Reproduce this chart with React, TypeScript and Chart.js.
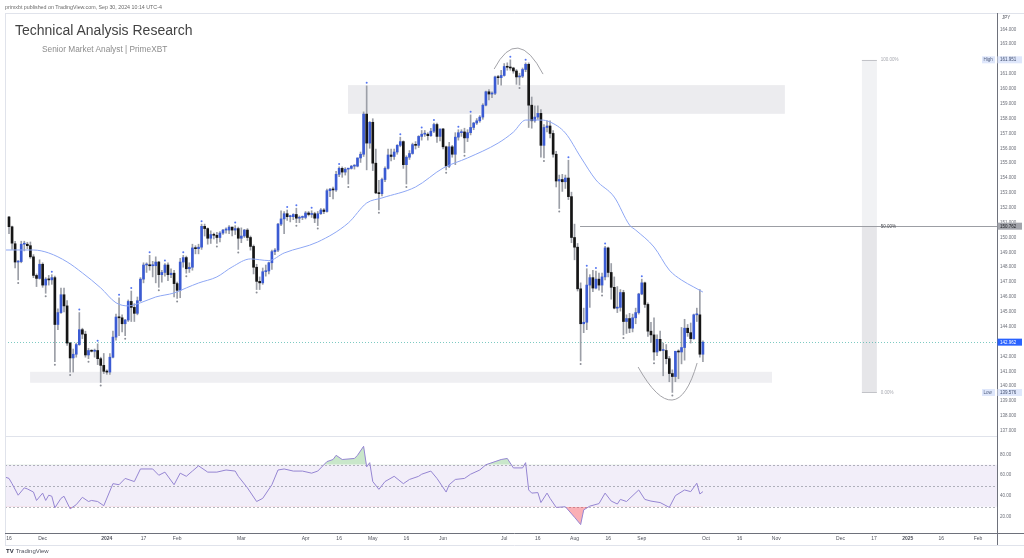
import React, { useEffect, useRef } from 'react';
import { Chart, registerables } from 'chart.js';

Chart.register(...registerables);

const FONT = '"Liberation Sans", Arial, Helvetica, sans-serif';

// ---- Daily USDJPY candles, one per weekday from 16 Nov 2023 (index 0) to 30 Sep 2024 (index 227)
const opens = [
  151.38,150.72,149.58,148.35,148.38,149.55,149.55,149.45,148.70,147.45,
  147.25,148.20,146.80,147.20,147.15,147.30,144.15,144.95,146.15,145.40,
  142.90,141.90,142.15,142.80,143.80,143.50,142.10,142.40,142.35,142.40,
  141.85,141.40,141.00,140.95,141.95,143.30,144.65,144.60,144.20,144.45,
  145.70,145.30,144.90,145.75,147.20,148.15,148.15,148.10,148.10,148.35,
  147.50,147.65,148.15,147.50,147.60,146.90,146.45,148.35,148.65,147.90,
  148.00,149.30,149.25,149.35,150.75,150.60,149.95,150.20,150.15,150.00,
  150.30,150.50,150.50,150.70,150.50,150.60,149.95,150.10,150.50,150.00,
  149.40,148.00,147.05,146.95,147.70,147.75,148.30,149.05,149.15,150.90,
  151.25,151.60,151.40,151.40,151.55,151.30,151.35,151.35,151.65,151.55,
  151.60,151.30,151.60,151.85,151.75,153.15,153.25,153.20,154.25,154.65,
  154.40,154.60,154.65,154.80,154.80,155.35,155.60,158.30,156.35,157.75,
  155.00,153.00,152.95,153.90,154.65,155.55,155.45,155.75,156.20,156.45,
  154.90,155.40,155.65,156.25,156.20,156.80,156.95,156.95,156.85,157.15,
  157.60,156.80,157.30,156.10,154.80,156.10,155.60,156.75,157.05,157.10,
  156.70,157.05,157.40,157.70,157.85,158.10,158.90,159.80,159.65,159.70,
  160.80,160.75,160.90,161.50,161.45,161.40,161.20,160.80,160.85,161.30,
  161.65,158.90,157.85,158.10,158.35,156.20,157.40,157.50,157.00,155.60,
  153.80,153.90,153.75,154.00,152.75,150.00,149.35,146.55,144.20,144.30,
  146.80,147.30,146.60,147.20,146.80,147.35,149.30,147.65,146.65,145.25,
  145.30,146.30,144.35,144.55,143.90,144.60,144.95,146.20,146.95,145.50,
  143.70,143.45,142.30,143.15,142.40,142.40,141.85,140.85,140.65,142.35,
  142.30,142.60,143.90,143.60,143.20,144.80,144.80,142.15,
];
const highs = [
  151.43,150.77,149.75,148.45,149.75,149.75,149.68,149.70,148.85,147.55,
  148.50,148.30,147.30,147.45,147.50,147.40,145.20,146.60,146.60,145.75,
  142.95,142.50,142.90,144.95,143.90,143.70,142.55,142.45,142.50,142.85,
  141.95,142.20,141.10,142.20,143.70,144.85,145.95,144.80,144.50,145.80,
  146.40,145.55,146.00,147.30,148.30,148.30,148.80,148.40,148.70,148.40,
  147.80,148.25,148.30,147.90,147.80,147.00,148.60,148.80,148.75,148.30,
  149.55,149.45,149.55,150.90,150.90,150.65,150.45,150.30,150.35,150.40,
  150.55,150.65,150.80,150.70,150.80,150.70,150.65,150.55,150.60,150.10,
  149.50,148.20,147.35,147.95,148.15,148.35,149.15,149.25,150.95,151.80,
  151.75,151.85,151.50,151.60,151.97,151.45,151.45,151.75,151.75,151.80,
  151.70,151.75,151.95,151.95,153.25,153.30,153.40,154.45,154.75,154.75,
  154.70,154.65,154.85,154.90,155.35,155.75,158.45,160.20,157.80,157.99,
  155.95,153.85,154.00,154.75,155.95,155.95,155.95,156.25,156.75,156.50,
  155.50,155.85,156.35,156.45,156.85,157.20,157.20,157.05,157.35,157.70,
  157.70,157.30,157.35,156.15,156.40,156.20,157.05,157.25,157.25,157.35,
  157.25,158.25,157.75,158.00,158.20,159.00,159.85,159.95,159.80,160.85,
  160.90,161.25,161.70,161.75,161.95,161.45,161.30,161.05,161.40,161.75,
  161.75,159.45,158.85,158.85,158.60,157.60,157.85,157.85,157.20,155.80,
  154.20,154.25,154.20,155.20,153.05,150.90,149.60,146.95,145.25,147.90,
  147.50,147.80,147.75,147.60,147.60,149.40,149.35,148.25,147.35,146.70,
  146.50,146.45,144.80,144.90,144.85,145.25,146.25,147.20,147.00,145.60,
  144.30,144.60,143.45,143.70,142.90,142.80,142.00,141.10,142.35,142.45,
  143.95,144.50,144.15,144.25,144.85,145.25,146.50,143.05,
];
const lows = [
  150.25,149.20,147.95,147.15,148.30,149.10,149.25,148.60,147.30,146.70,
  147.20,146.65,146.25,146.80,146.85,141.65,143.80,144.90,145.00,142.75,
  140.95,140.95,141.95,142.75,143.20,141.95,141.85,142.30,141.95,141.45,
  140.25,140.85,140.80,140.80,141.90,143.10,143.40,143.65,143.40,144.35,
  144.35,144.35,144.80,145.70,146.95,147.65,147.80,147.35,146.95,146.65,
  147.00,147.40,147.10,147.30,146.00,145.90,145.95,148.00,147.60,147.65,
  147.80,148.90,148.90,149.20,150.10,149.55,149.60,149.90,149.60,149.70,
  150.20,150.30,150.25,150.10,150.20,149.20,149.65,150.00,149.80,149.15,
  147.55,146.50,146.50,146.85,147.40,147.55,147.85,148.85,149.05,150.80,
  150.25,151.15,151.05,151.20,151.00,151.00,151.20,151.25,151.45,151.35,
  151.00,150.80,151.55,151.60,151.70,152.75,152.60,153.10,154.10,154.05,
  154.20,153.60,154.60,154.60,154.75,155.05,155.45,154.55,156.00,154.50,
  152.95,151.86,152.80,153.75,154.60,155.15,155.25,155.60,156.10,154.65,
  153.60,155.25,155.60,155.95,156.05,156.55,156.80,156.55,156.80,157.05,
  156.40,156.50,155.95,154.55,154.70,155.40,154.90,156.55,156.80,155.70,
  156.45,156.90,157.25,157.60,157.75,157.95,158.85,159.25,159.40,159.60,
  160.30,160.25,160.85,161.25,161.25,161.05,160.30,160.25,160.75,161.15,
  157.40,157.35,157.75,157.95,155.40,155.35,157.10,156.70,155.40,153.40,
  151.95,153.10,153.30,152.55,149.65,148.50,146.40,141.70,143.60,143.80,
  145.30,146.35,146.55,146.45,146.30,147.15,147.35,145.85,145.20,144.95,
  145.05,143.45,143.55,143.60,143.65,144.20,144.85,146.15,145.30,143.35,
  142.95,141.75,142.05,142.35,140.70,141.50,140.30,139.58,140.30,140.50,
  141.50,141.75,143.35,142.90,143.15,144.35,141.95,141.65,
];
const closes = [
  150.73,149.62,148.35,148.38,149.55,149.55,149.45,148.70,147.45,147.25,
  148.20,146.80,147.20,147.15,147.30,144.15,144.95,146.15,145.40,142.90,
  141.90,142.15,142.80,143.80,143.50,142.10,142.40,142.35,142.40,141.85,
  141.40,141.00,140.95,141.95,143.30,144.65,144.60,144.20,144.45,145.70,
  145.30,144.90,145.75,147.20,148.15,148.15,148.10,148.10,148.35,147.50,
  147.65,148.15,147.50,147.60,146.90,146.45,148.35,148.65,147.90,148.00,
  149.30,149.25,149.35,150.75,150.60,149.95,150.20,150.15,150.00,150.30,
  150.50,150.50,150.70,150.50,150.60,149.95,150.10,150.50,150.00,149.40,
  148.00,147.05,146.95,147.70,147.75,148.30,149.05,149.15,150.90,151.25,
  151.60,151.40,151.40,151.55,151.30,151.35,151.35,151.65,151.55,151.60,
  151.30,151.60,151.85,151.75,153.15,153.25,153.20,154.25,154.65,154.40,
  154.60,154.65,154.80,154.80,155.35,155.60,158.30,156.35,157.75,155.00,
  153.00,152.95,153.90,154.65,155.55,155.45,155.75,156.20,156.45,154.90,
  155.40,155.65,156.25,156.20,156.80,156.95,156.95,156.85,157.15,157.60,
  156.80,157.30,156.10,154.80,156.10,155.60,156.75,157.05,157.10,156.70,
  157.05,157.40,157.70,157.85,158.10,158.90,159.80,159.65,159.70,160.80,
  160.75,160.90,161.50,161.45,161.40,161.20,160.80,160.85,161.30,161.65,
  158.90,157.85,158.10,158.35,156.20,157.40,157.50,157.00,155.60,153.80,
  153.90,153.75,154.00,152.75,150.00,149.35,146.55,144.20,144.30,146.80,
  147.30,146.60,147.20,146.80,147.35,149.30,147.65,146.65,145.25,145.30,
  146.30,144.35,144.55,143.90,144.60,144.95,146.20,146.95,145.50,143.70,
  143.45,142.30,143.15,142.40,142.40,141.85,140.85,140.65,142.35,142.30,
  142.60,143.90,143.60,143.20,144.80,144.80,142.15,142.96,
];

const maIdx = [-1, 8, 13, 19, 24, 30, 35, 39, 43, 48, 54, 58, 62, 68, 73, 79, 85, 90, 101, 111, 117, 122, 133, 142, 150, 160, 165, 169, 174, 177, 182, 187, 192, 198, 203, 205, 211, 216, 220, 224, 227];
const maVal = [149.16, 149.16, 148.96, 148.36, 147.62, 146.61, 145.61, 145.40, 145.61, 146.00, 146.27, 146.61, 146.94, 147.35, 148.02, 148.56, 148.45, 148.96, 149.70, 150.98, 152.32, 152.66, 153.40, 154.67, 155.35, 156.35, 157.09, 157.90, 157.90, 157.77, 157.03, 155.41, 153.87, 152.72, 150.84, 150.50, 149.36, 147.81, 147.14, 146.67, 146.33];

// ---- RSI (14)
const rsiIdx = [-1, 0, 1, 3, 5, 6, 8, 9, 11, 12, 13, 14, 15, 17, 18, 20, 22, 24, 26, 27, 29, 31, 34, 36, 38, 41, 43, 47, 49, 51, 54, 56, 58, 60, 62, 65, 68, 71, 74, 75, 78, 81, 83, 86, 88, 90, 93, 96, 99, 101, 104, 106, 107, 109, 113, 114, 116, 117, 118, 119, 121, 123, 126, 129, 131, 134, 135, 138, 140, 143, 144, 146, 149, 151, 154, 156, 159, 161, 163, 165, 168, 169, 170, 171, 173, 174, 176, 177, 179, 182, 185, 187, 188, 190, 193, 195, 197, 199, 200, 202, 206, 208, 210, 213, 216, 218, 221, 223, 225, 226, 227];
const rsiVal = [58, 57, 52, 41, 48, 47, 44, 36, 43, 36, 41, 40, 29, 38, 40, 28, 32, 39, 35, 36, 35, 31, 52, 51, 57, 54, 66, 66, 60, 63, 51, 62, 59, 64, 69, 63, 63, 65, 64, 59, 48, 35, 38, 51, 65, 66, 64, 64, 62, 64, 73, 75, 79, 75, 76, 79, 87.6, 68, 72, 54, 46.6, 54, 59, 52, 56, 59, 61, 64, 57, 44, 51, 56, 57, 61, 65, 70, 73, 75, 76, 67, 67, 72, 46, 43, 43.5, 34, 43, 38, 29.4, 30, 20, 13, 27, 30.6, 33, 43, 35.4, 32.6, 37, 35, 46, 37, 35.4, 34, 29.4, 40.6, 46, 44.4, 52.4, 42.2, 44.4];

// ---- pivot markers (bars whose high / low is tagged)
const pivotHighIdx = [14, 23, 29, 36, 40, 46, 51, 57, 63, 74, 91, 94, 99, 108, 117, 128, 135, 139, 147, 151, 164, 169, 183, 189, 192, 195, 207];
const pivotLowIdx = [3, 12, 15, 20, 26, 30, 38, 49, 55, 58, 68, 75, 81, 94, 101, 111, 121, 130, 143, 149, 167, 175, 180, 187, 194, 201, 211, 217];

// ---- time axis
const xTickIdx = [0, 11, 32, 44, 55, 76, 97, 108, 119, 130, 142, 162, 173, 185, 196, 207, 228, 239, 251, 272, 283, 294, 305, 317];
const xTickLabels = ['16', 'Dec', '2024', '17', 'Feb', 'Mar', 'Apr', '16', 'May', '16', 'Jun', 'Jul', '16', 'Aug', '16', 'Sep', 'Oct', '16', 'Nov', 'Dec', '17', '2025', '16', 'Feb'];
const priceTicks = [137, 138, 139, 140, 141, 142, 143, 144, 145, 146, 147, 148, 149, 150, 151, 152, 153, 154, 155, 156, 157, 158, 159, 160, 161, 162, 163, 164];
const rsiTicks = [20, 40, 60, 80];

// ---- drawings
const zoneFromIdx = [110.9, 6.9];
const zoneToIdx = [253.8, 249.6];
const zoneHigh = [160.25, 140.97];
const zoneLow = [158.32, 140.23];
const fibHigh = 161.951;
const fibMid = 150.762;
const fibLow = 139.576;
const fibFromIdx = 279.0;
const fibToIdx = 283.9;
const fibLabelIdx = 285.2;
const fibLabels = ['100.00%', '50.00%', '0.00%'];
const midLineFromIdx = 186.8;
const lastPrice = 142.962;
const topArcIdx = [158.7, 166.5, 174.7];
const topArcPrice = [161.33, 162.74, 160.99];
const bottomArcIdx = [205.8, 216.9, 225.1];
const bottomArcPrice = [141.29, 139.07, 141.56];

const X_MIN = -1.31;
const X_MAX = 323.2;

const UP = '#3b5bd3';
const DOWN = '#151515';

const overlayPlugin = {
  id: 'tvOverlay',
  beforeDatasetsDraw(chart: any) {
    const { ctx, chartArea: ca, scales } = chart;
    const px = (v: number) => scales.x.getPixelForValue(v);
    const py = (v: number) => scales.y.getPixelForValue(v);
    const pr = (v: number) => scales.yr.getPixelForValue(v);
    ctx.save();
    // zones
    const zoneColors = ['#ececef', '#efeff2'];
    for (let i = 0; i < zoneFromIdx.length; i++) {
      const x0 = px(zoneFromIdx[i]);
      const x1 = px(zoneToIdx[i]);
      const y0 = py(zoneHigh[i]);
      const y1 = py(zoneLow[i]);
      ctx.fillStyle = zoneColors[i];
      ctx.fillRect(x0, y0, x1 - x0, y1 - y0);
    }
    // fib range bar
    const fx0 = px(fibFromIdx);
    const fx1 = px(fibToIdx);
    const yHi = py(fibHigh);
    const yMid = py(fibMid);
    const yLo = py(fibLow);
    ctx.fillStyle = '#f1f2f4';
    ctx.fillRect(fx0, yHi, fx1 - fx0, yMid - yHi);
    ctx.fillStyle = '#e6e6e9';
    ctx.fillRect(fx0, yMid, fx1 - fx0, yLo - yMid);
    ctx.strokeStyle = '#c2c3c8';
    ctx.lineWidth = 1;
    ctx.beginPath();
    ctx.moveTo(fx0, Math.round(yHi) + 0.5);
    ctx.lineTo(fx1, Math.round(yHi) + 0.5);
    ctx.moveTo(fx0, Math.round(yLo) + 0.5);
    ctx.lineTo(fx1, Math.round(yLo) + 0.5);
    ctx.stroke();
    // 50% line
    ctx.strokeStyle = '#9c9ea4';
    ctx.beginPath();
    ctx.moveTo(px(midLineFromIdx), Math.round(yMid) + 0.5);
    ctx.lineTo(ca.right, Math.round(yMid) + 0.5);
    ctx.stroke();
    // last price dotted line
    ctx.setLineDash([1, 2]);
    ctx.strokeStyle = 'rgba(38,166,154,0.6)';
    ctx.beginPath();
    ctx.moveTo(ca.left, Math.round(py(lastPrice)) + 0.5);
    ctx.lineTo(ca.right, Math.round(py(lastPrice)) + 0.5);
    ctx.stroke();
    // RSI band
    ctx.setLineDash([]);
    ctx.fillStyle = 'rgba(126,87,194,0.1)';
    ctx.fillRect(ca.left, pr(70), ca.right - ca.left, pr(30) - pr(70));
    ctx.setLineDash([2, 2]);
    ctx.strokeStyle = 'rgba(120,123,134,0.55)';
    for (const lv of [70, 50, 30]) {
      const yy = Math.round(pr(lv)) + 0.5;
      ctx.beginPath();
      ctx.moveTo(ca.left, yy);
      ctx.lineTo(ca.right, yy);
      ctx.stroke();
    }
    ctx.setLineDash([]);
    // pane separator
    ctx.strokeStyle = '#e0e3eb';
    ctx.beginPath();
    ctx.moveTo(ca.left, Math.round(scales.yr.top) + 0.5);
    ctx.lineTo(ca.right, Math.round(scales.yr.top) + 0.5);
    ctx.stroke();
    ctx.restore();
  },
  afterDatasetsDraw(chart: any) {
    const { ctx, scales } = chart;
    const px = (v: number) => scales.x.getPixelForValue(v);
    const py = (v: number) => scales.y.getPixelForValue(v);
    ctx.save();
    // pivot dots
    ctx.fillStyle = '#5677f2';
    for (const i of pivotHighIdx) {
      ctx.beginPath();
      ctx.arc(px(i), py(highs[i]) - 3, 1, 0, Math.PI * 2);
      ctx.fill();
    }
    ctx.fillStyle = '#8b8e96';
    for (const i of pivotLowIdx) {
      ctx.beginPath();
      ctx.arc(px(i), py(lows[i]) + 3, 1, 0, Math.PI * 2);
      ctx.fill();
    }
    // arcs
    const arc = (ix: number[], pv: number[]) => {
      const p = ix.map((v, k) => ({ x: px(v), y: py(pv[k]) }));
      const cx = 2 * p[1].x - (p[0].x + p[2].x) / 2;
      const cy = 2 * p[1].y - (p[0].y + p[2].y) / 2;
      ctx.beginPath();
      ctx.moveTo(p[0].x, p[0].y);
      ctx.quadraticCurveTo(cx, cy, p[2].x, p[2].y);
      ctx.stroke();
    };
    ctx.strokeStyle = '#a3a3a8';
    ctx.lineWidth = 1;
    arc(topArcIdx, topArcPrice);
    arc(bottomArcIdx, bottomArcPrice);
    ctx.restore();
  },
  afterDraw(chart: any) {
    const { ctx, chartArea: ca, scales } = chart;
    const px = (v: number) => scales.x.getPixelForValue(v);
    const py = (v: number) => scales.y.getPixelForValue(v);
    const W = chart.width;
    const bottomY = scales.x.bottom;
    ctx.save();
    // frame lines
    ctx.lineWidth = 1;
    ctx.strokeStyle = '#e0e3eb';
    ctx.beginPath();
    ctx.moveTo(ca.left, Math.round(ca.top) + 0.5);
    ctx.lineTo(W, Math.round(ca.top) + 0.5);
    ctx.moveTo(Math.round(ca.left) + 0.5, ca.top);
    ctx.lineTo(Math.round(ca.left) + 0.5, bottomY);
    ctx.moveTo(ca.left, Math.round(bottomY) + 0.5);
    ctx.lineTo(W, Math.round(bottomY) + 0.5);
    ctx.stroke();
    ctx.strokeStyle = '#6e717b';
    ctx.beginPath();
    ctx.moveTo(Math.round(ca.right) + 0.5, ca.top);
    ctx.lineTo(Math.round(ca.right) + 0.5, bottomY);
    ctx.moveTo(ca.left, Math.round(ca.bottom) + 0.5);
    ctx.lineTo(W, Math.round(ca.bottom) + 0.5);
    ctx.stroke();

    ctx.textBaseline = 'middle';
    ctx.textAlign = 'left';
    ctx.font = `4.5px ${FONT}`;
    // currency
    ctx.fillStyle = '#555862';
    ctx.fillText('JPY', ca.right + 5, ca.top + 5);
    // fib labels
    const fibVals = [fibHigh, fibMid, fibLow];
    const fibCols = ['#a7a9b0', '#4a4c52', '#a7a9b0'];
    fibVals.forEach((v, k) => {
      ctx.fillStyle = fibCols[k];
      ctx.fillText(fibLabels[k], px(fibLabelIdx), py(v) + 0.3);
    });
    // axis price tags
    const tag = (val: number, text: string, bg: string, fg: string) => {
      const yc = py(val);
      ctx.fillStyle = bg;
      ctx.fillRect(ca.right + 0.5, yc - 3.5, 24.5, 7);
      ctx.fillStyle = fg;
      ctx.fillText(text, ca.right + 3, yc + 0.3);
    };
    const sideTag = (val: number, text: string) => {
      const yc = py(val);
      ctx.fillStyle = '#dfe7fb';
      ctx.fillRect(ca.right - 15, yc - 3.5, 13, 7);
      ctx.fillStyle = '#4d5b7d';
      ctx.fillText(text, ca.right - 13.5, yc + 0.3);
    };
    tag(fibHigh, fibHigh.toFixed(3), '#dfe7fb', '#3e4c6e');
    sideTag(fibHigh, 'High');
    tag(fibLow, fibLow.toFixed(3), '#dfe7fb', '#3e4c6e');
    sideTag(fibLow, 'Low');
    tag(fibMid, fibMid.toFixed(3), '#a3a5ac', '#1d1e22');
    tag(lastPrice, lastPrice.toFixed(3), '#2962ff', '#ffffff');
    ctx.restore();
  },
};

export default function App() {
  const canvasRef = useRef<HTMLCanvasElement | null>(null);

  useEffect(() => {
    const canvas = canvasRef.current;
    if (!canvas) return;
    Chart.defaults.font.family = FONT;
    const wickData = lows.map((l, i) => ({ x: i, y: [l, highs[i]] }));
    const bodyData = opens.map((o, i) => ({ x: i, y: [o, closes[i]] }));
    const bodyColors = opens.map((o, i) => (closes[i] >= o ? UP : DOWN));
    const maData = maIdx.map((x, i) => ({ x, y: maVal[i] }));
    const rsiData = rsiIdx.map((x, i) => ({ x, y: rsiVal[i] }));

    const chart = new Chart(canvas, {
      type: 'bar',
      data: {
        datasets: [
          {
            type: 'line',
            label: 'MA',
            data: maData,
            yAxisID: 'y',
            borderColor: '#8ea7f4',
            borderWidth: 1,
            pointRadius: 0,
            cubicInterpolationMode: 'monotone',
            order: 0,
          } as any,
          {
            type: 'bar',
            label: 'Wicks',
            data: wickData,
            yAxisID: 'y',
            backgroundColor: '#9c9fa7',
            barThickness: 1,
            grouped: false,
            order: 2,
          } as any,
          {
            type: 'bar',
            label: 'Bodies',
            data: bodyData,
            yAxisID: 'y',
            backgroundColor: bodyColors,
            barThickness: 2,
            minBarLength: 1,
            grouped: false,
            order: 1,
          } as any,
          {
            type: 'line',
            label: 'RSI',
            data: rsiData,
            yAxisID: 'yr',
            borderColor: '#9585d2',
            borderWidth: 1,
            pointRadius: 0,
            tension: 0,
            fill: { target: { value: 70 }, above: 'rgba(76,175,80,0.3)', below: 'rgba(0,0,0,0)' },
            order: 0,
          } as any,
          {
            type: 'line',
            label: 'RSI oversold',
            data: rsiData,
            yAxisID: 'yr',
            borderColor: 'rgba(0,0,0,0)',
            borderWidth: 0,
            pointRadius: 0,
            tension: 0,
            fill: { target: { value: 30 }, above: 'rgba(0,0,0,0)', below: 'rgba(242,54,69,0.4)' },
            order: 0,
          } as any,
        ],
      },
      options: {
        animation: false,
        responsive: false,
        maintainAspectRatio: false,
        events: [],
        layout: { padding: { left: 5, top: 13, right: 0, bottom: 13 } },
        plugins: { legend: { display: false }, tooltip: { enabled: false } },
        scales: {
          x: {
            type: 'linear',
            min: X_MIN,
            max: X_MAX,
            offset: false,
            grid: { display: false, drawTicks: false },
            border: { display: false },
            afterBuildTicks: (s: any) => {
              s.ticks = xTickIdx.map((v) => ({ value: v }));
            },
            afterFit: (s: any) => {
              s.height = 12;
            },
            ticks: {
              autoSkip: false,
              maxRotation: 0,
              minRotation: 0,
              padding: 3,
              color: '#4f525c',
              font: (c: any) => ({
                family: FONT,
                size: 5,
                weight: xTickLabels[c.index] === '2024' || xTickLabels[c.index] === '2025' ? 'bold' : 'normal',
              }),
              callback: (_v: any, i: number) => xTickLabels[i],
            },
          },
          y: {
            type: 'linear',
            position: 'right',
            stack: 'panes',
            stackWeight: 423,
            min: 136.65,
            max: 165.1,
            grid: { display: false, drawTicks: false },
            border: { display: false },
            afterBuildTicks: (s: any) => {
              s.ticks = priceTicks.map((v) => ({ value: v }));
            },
            afterFit: (s: any) => {
              s.width = 27;
            },
            ticks: {
              autoSkip: false,
              padding: 3,
              color: '#6b6e78',
              font: { family: FONT, size: 4.5 },
              callback: (v: any) => Number(v).toFixed(3),
            },
          },
          yr: {
            type: 'linear',
            position: 'right',
            stack: 'panes',
            stackWeight: 97,
            min: 5,
            max: 97.4,
            grid: { display: false, drawTicks: false },
            border: { display: false },
            afterBuildTicks: (s: any) => {
              s.ticks = rsiTicks.map((v) => ({ value: v }));
            },
            afterFit: (s: any) => {
              s.width = 27;
            },
            ticks: {
              autoSkip: false,
              padding: 3,
              color: '#6b6e78',
              font: { family: FONT, size: 4.5 },
              callback: (v: any) => Number(v).toFixed(2),
            },
          },
        },
      } as any,
      plugins: [overlayPlugin],
    });
    return () => chart.destroy();
  }, []);

  return (
    <div
      style={{
        position: 'absolute',
        left: 0,
        top: 0,
        width: 1024,
        height: 558,
        background: '#ffffff',
        overflow: 'hidden',
        fontFamily: FONT,
      }}
    >
      <canvas ref={canvasRef} width={1024} height={558} style={{ position: 'absolute', left: 0, top: 0 }} />
      <div style={{ position: 'absolute', left: 5, top: 4, fontSize: 5.3, lineHeight: '6px', color: '#6a6a6a', whiteSpace: 'nowrap' }}>
        primxbt published on TradingView.com, Sep 30, 2024 10:14 UTC-4
      </div>
      <div style={{ position: 'absolute', left: 15, top: 21, fontSize: 14, lineHeight: '18px', color: '#434343', whiteSpace: 'nowrap' }}>
        Technical Analysis Research
      </div>
      <div style={{ position: 'absolute', left: 42, top: 44, fontSize: 8.3, lineHeight: '10px', color: '#8c8c8c', whiteSpace: 'nowrap' }}>
        Senior Market Analyst | PrimeXBT
      </div>
      <div style={{ position: 'absolute', left: 6, top: 548, fontSize: 6, lineHeight: '7px', color: '#2a2e39', whiteSpace: 'nowrap' }}>
        <span style={{ fontWeight: 'bold', marginRight: 2 }}>TV</span>
        <span style={{ color: '#50535e' }}>TradingView</span>
      </div>
    </div>
  );
}
